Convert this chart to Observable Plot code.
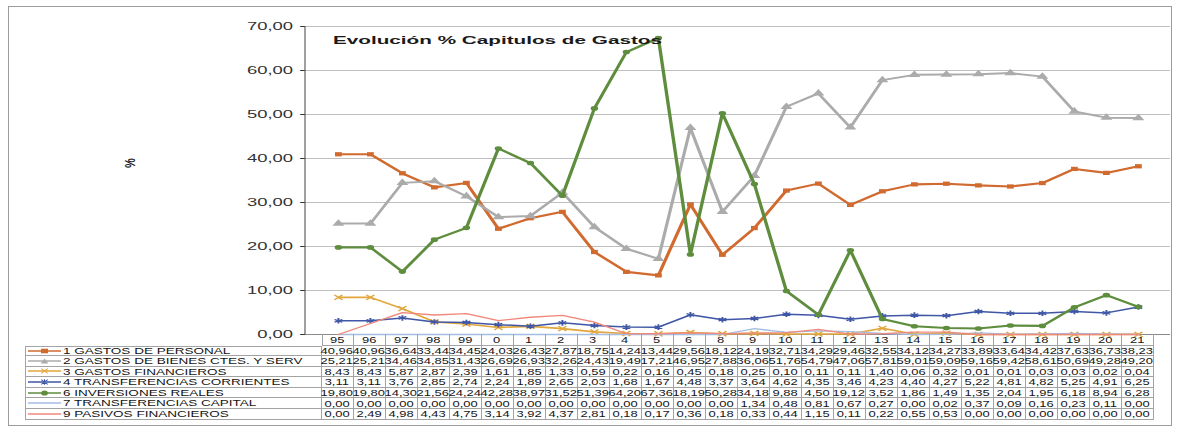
<!DOCTYPE html>
<html>
<head>
<meta charset="utf-8">
<script src="https://cdn.jsdelivr.net/npm/d3@7"></script>
<script src="https://cdn.jsdelivr.net/npm/@observablehq/plot@0.6"></script>
<style>
html, body { margin: 0; padding: 0; background: #fff; }
#wrap { position: relative; width: 1177px; height: 430px; overflow: hidden;
  font-family: "Liberation Sans", Arial, sans-serif; color: #151515; }
#border { position: absolute; left: 8px; top: 6px; width: 1164px; height: 420px;
  border: 1px solid #9c9c9c; box-sizing: border-box; }
#chart { position: absolute; left: 0; top: 0; }
#chart svg { display: block; transform-origin: 0 0; }
#title { position: absolute; left: 333px; top: 34px; font-weight: bold; font-size: 11.5px;
  white-space: nowrap; color: #1a1a1a; transform: scaleX(1.8); transform-origin: 0 0; }
#ylab { position: absolute; left: 130px; top: 163px; font-weight: bold; font-size: 11px;
  color: #222; transform: translate(-50%, -50%) rotate(-90deg) scaleY(1.3); white-space: nowrap; }
#tbl { position: absolute; left: 25px; top: 334px; display: grid; }
#tbl .c { box-sizing: border-box; border-right: 1px solid #a3a3a3; border-bottom: 1px solid #a3a3a3;
  display: flex; align-items: center; justify-content: center;
  overflow: visible; white-space: nowrap; position: relative; }
#tbl .blank { border: none; }
#tbl .bl { border-left: 1px solid #a3a3a3; }
#tbl .bt { border-top: 1px solid #a3a3a3; }
#tbl .t { display: inline-block; transform: scaleX(1.38); transform-origin: 50% 50%;
  font-size: 9.4px; line-height: 9.4px; }
#tbl .lab { justify-content: flex-start; }
#tbl .lab .t { transform-origin: 0 50%; font-size: 9.8px; line-height: 9.8px; margin-left: 37px; }
#tbl .sw { position: absolute; left: 2px; top: 50%; margin-top: -5px; }
</style>
</head>
<body>
<div id="wrap">
  <div id="border"></div>
  <div id="chart"></div>
  <div id="title">Evolución % Capitulos de Gastos</div>
  <div id="ylab">%</div>
  <div id="tbl"></div>
</div>
<script>
// ---- data ----
const categories = ["95","96","97","98","99","0","1","2","3","4","5","6","8","9","10","11","12","13","14","15","16","17","18","19","20","21"];
const seriesNames = [
  "1 GASTOS DE PERSONAL",
  "2 GASTOS DE BIENES CTES. Y SERV",
  "3 GASTOS FINANCIEROS",
  "4 TRANSFERENCIAS CORRIENTES",
  "6 INVERSIONES REALES",
  "7 TRANSFERENCIAS CAPITAL",
  "9 PASIVOS FINANCIEROS"
];
const gastosPersonal = [40.96,40.96,36.64,33.44,34.45,24.03,26.43,27.87,18.75,14.24,13.44,29.56,18.12,24.19,32.71,34.29,29.46,32.55,34.12,34.27,33.89,33.64,34.42,37.63,36.73,38.23];
const gastosBienes = [25.21,25.21,34.46,34.85,31.43,26.69,26.93,32.26,24.43,19.49,17.21,46.95,27.88,36.06,51.76,54.79,47.06,57.81,59.01,59.09,59.16,59.42,58.61,50.69,49.28,49.20];
const gastosFinancieros = [8.43,8.43,5.87,2.87,2.39,1.61,1.85,1.33,0.59,0.22,0.16,0.45,0.18,0.25,0.10,0.11,0.11,1.40,0.06,0.32,0.01,0.01,0.03,0.03,0.02,0.04];
const transfCorrientes = [3.11,3.11,3.76,2.85,2.74,2.24,1.89,2.65,2.03,1.68,1.67,4.48,3.37,3.64,4.62,4.35,3.46,4.23,4.40,4.27,5.22,4.81,4.82,5.25,4.91,6.25];
const inversionesReales = [19.80,19.80,14.30,21.56,24.24,42.28,38.97,31.52,51.39,64.20,67.36,18.19,50.28,34.18,9.88,4.50,19.12,3.52,1.86,1.49,1.35,2.04,1.95,6.18,8.94,6.28];
const transfCapital = [0.00,0.00,0.00,0.00,0.00,0.00,0.00,0.00,0.00,0.00,0.00,0.00,0.00,1.34,0.48,0.81,0.67,0.27,0.00,0.02,0.37,0.09,0.16,0.23,0.11,0.00];
const pasivosFinancieros = [0.00,2.49,4.98,4.43,4.75,3.14,3.92,4.37,2.81,0.18,0.17,0.36,0.18,0.33,0.44,1.15,0.11,0.22,0.55,0.53,0.00,0.00,0.00,0.00,0.00,0.00];
const yTicks = [0,10,20,30,40,50,60,70];

// ---- styles (separate from data) ----
const seriesValues = [gastosPersonal, gastosBienes, gastosFinancieros, transfCorrientes, inversionesReales, transfCapital, pasivosFinancieros];
const colors = ["#d06a2f","#ababab","#e2a63a","#3f57a6","#5e8d3d","#a4bde3","#f0897c"];
const widths = [2.1, 2.0, 1.6, 1.5, 2.1, 1.3, 1.3];
const symbols = ["square","triangle","times","asterisk","circle",null,null];
const radii = [2.4, 2.8, 2.4, 2.6, 2.3, 0, 0];

const S = 1.6; // horizontal stretch of the chart drawing
const fmt = d => d.toFixed(2).replace(".", ",");

const marks = [
  Plot.ruleY(yTicks.filter(d => d > 0), {stroke: "#bfbfbf", strokeWidth: 1}),
  Plot.ruleY([0], {stroke: "#8a8a8a", strokeWidth: 1})
];
seriesValues.forEach((vals, k) => {
  const data = categories.map((c, i) => ({cat: c, value: vals[i], series: seriesNames[k]}));
  marks.push(Plot.line(data, {x: "cat", y: "value", stroke: colors[k], strokeWidth: widths[k]}));
  const sym = symbols[k];
  if (sym) {
    const strokeSym = sym === "times" || sym === "asterisk";
    marks.push(Plot.dot(data, strokeSym
      ? {x: "cat", y: "value", symbol: sym, r: radii[k], stroke: colors[k], fill: "none", strokeWidth: 1.2}
      : {x: "cat", y: "value", symbol: sym, r: radii[k], fill: colors[k], stroke: "none"}));
  }
});
// y axis line
marks.push((index, scales, values, dims) => {
  return d3.create("svg:line")
    .attr("x1", dims.marginLeft).attr("x2", dims.marginLeft)
    .attr("y1", scales.y(70)).attr("y2", scales.y(0))
    .attr("stroke", "#555").attr("stroke-width", 0.7).node();
});

const plot = Plot.plot({
  width: 1177 / S,
  height: 340,
  marginLeft: 305 / S,
  marginRight: 7 / S,
  marginTop: 26,
  marginBottom: 6,
  style: {fontFamily: "Liberation Sans, Arial, sans-serif", fontSize: "11.5px", color: "#333", background: "transparent", overflow: "visible"},
  x: {type: "point", domain: categories, padding: 0.5, axis: null},
  y: {domain: [0, 70], ticks: yTicks, tickFormat: fmt, tickSize: 3, tickPadding: 5, label: null},
  marks
});
plot.style.transform = `scaleX(${S})`;
document.getElementById("chart").appendChild(plot);

// ---- data table (legend + values), aligned to the x scale ----
const xs = plot.scale("x");
const step = (xs.apply(categories[1]) - xs.apply(categories[0])) * S;
const dataLeft = xs.apply(categories[0]) * S - step / 2;
const tblLeft = 25;
const labelW = dataLeft - tblLeft;
const tbl = document.getElementById("tbl");
tbl.style.gridTemplateColumns = `${labelW}px repeat(${categories.length}, ${step}px)`;
const headerH = 11.5, rowH = 10.6;
tbl.style.gridTemplateRows = `${headerH}px repeat(${seriesNames.length}, ${rowH}px)`;

function swatch(k) {
  const c = colors[k];
  let m = "";
  const s = symbols[k];
  if (s === "square") m = `<rect x="13" y="2.7" width="7" height="4.6" fill="${c}"/>`;
  else if (s === "triangle") m = `<path d="M12.6,7.4 L16.5,2.4 L20.4,7.4Z" fill="${c}"/>`;
  else if (s === "times") m = `<path d="M13.3,2.6 L19.7,7.4 M13.3,7.4 L19.7,2.6" stroke="${c}" stroke-width="1.1" fill="none"/>`;
  else if (s === "asterisk") m = `<path d="M13.3,2.6 L19.7,7.4 M13.3,7.4 L19.7,2.6 M16.5,2.2 L16.5,7.8" stroke="${c}" stroke-width="1.1" fill="none"/>`;
  else if (s === "circle") m = `<ellipse cx="16.5" cy="5" rx="3.4" ry="2.6" fill="${c}"/>`;
  return `<svg class="sw" width="34" height="10"><line x1="0" y1="5" x2="33" y2="5" stroke="${c}" stroke-width="1.7"/>${m}</svg>`;
}

let html = `<div class="c blank"></div>`;
categories.forEach((c, i) => {
  html += `<div class="c${i === 0 ? " bl" : ""}"><span class="t">${c}</span></div>`;
});
seriesNames.forEach((name, k) => {
  html += `<div class="c lab bl${k === 0 ? " bt" : ""}">${swatch(k)}<span class="t">${name}</span></div>`;
  seriesValues[k].forEach(v => {
    html += `<div class="c"><span class="t">${fmt(v)}</span></div>`;
  });
});
tbl.innerHTML = html;
</script>
</body>
</html>
